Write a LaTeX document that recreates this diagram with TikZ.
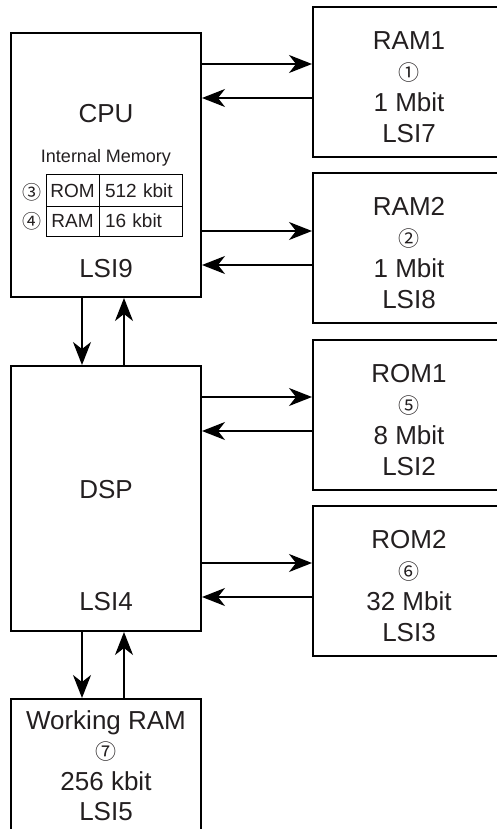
\documentclass[tikz,border=0pt]{standalone}
\usepackage{fontspec}
\setmainfont{Liberation Sans}
\newfontfamily\circfont{Noto Sans CJK JP}
\usetikzlibrary{arrows.meta,calc}
\definecolor{ink}{RGB}{35,31,32}
\newcommand{\circd}[1]{{\circfont\fontsize{21}{31}\selectfont #1}}
\begin{document}
\begin{tikzpicture}[x=1pt,y=-1pt,
  box/.style={draw=black, line width=2pt, inner sep=0pt},
  leftbox/.style={box, minimum width=190pt},
  rightbox/.style={box, minimum width=192pt, minimum height=150pt},
  big/.style={font=\fontsize{26}{31}\selectfont, text=ink, align=center, inner sep=0pt},
  small/.style={font=\fontsize{18}{20}\selectfont, text=ink, inner sep=0pt},
  cella/.style={draw=black, line width=1pt, minimum width=53pt, font=\fontsize{19}{20}\selectfont, text=ink, inner sep=0pt},
  cellb/.style={draw=black, line width=1pt, text width=71pt, inner xsep=6pt, inner ysep=0pt, align=left, font=\fontsize{19}{20}\selectfont, text=ink},
  circ/.style={font=\circfont\fontsize{19}{20}\selectfont, text=ink, inner sep=0pt},
  arr/.style={line width=1.6pt, draw=black, -{Stealth[length=23pt,width=18pt,inset=7pt]}}
]
\clip (0,0) rectangle (497,829);
% left column boxes
\node[leftbox, minimum height=264pt] (cpu) at (106,165) {};
\node[leftbox, minimum height=265pt] (dsp) at (106,498.5) {};
\node[leftbox, minimum height=160pt] (wram) at (106,779) {};
% right column boxes
\node[rightbox] (ram1) at (409,82) {};
\node[rightbox] (ram2) at (409,248) {};
\node[rightbox] (rom1) at (409,415) {};
\node[rightbox] (rom2) at (409,581) {};
% texts in right boxes
\node[big] (ram1t) at ([yshift=-5pt]ram1.center) {RAM1\\\circd{①}\\1 Mbit\\LSI7};
\node[big] (ram2t) at ([yshift=-5pt]ram2.center) {RAM2\\\circd{②}\\1 Mbit\\LSI8};
\node[big] (rom1t) at ([yshift=-5pt]rom1.center) {ROM1\\\circd{⑤}\\8 Mbit\\LSI2};
\node[big] (rom2t) at ([yshift=-5pt]rom2.center) {ROM2\\\circd{⑥}\\32 Mbit\\LSI3};
% CPU contents
\node[big, anchor=base] (cput) at (106,123) {CPU};
\node[small, anchor=base] (imem) at (106,163) {Internal Memory};
\node[cella, minimum height=31pt] (c11) at (72.5,190.5) {ROM};
\node[cellb, minimum height=31pt] (c12) at (140.5,190.5) {512 kbit};
\node[cella, minimum height=30pt] (c21) at (72.5,221) {RAM};
\node[cellb, minimum height=30pt] (c22) at (140.5,221) {16 kbit};
\node[circ] (n3) at (31.7,192.7) {③};
\node[circ] (n4) at (31.7,221.7) {④};
\node[big, anchor=base] (lsi9) at (106,277) {LSI9};
% DSP contents
\node[big, anchor=base] (dspt) at (106,498) {DSP};
\node[big, anchor=base] (lsi4) at (106,610) {LSI4};
% Working RAM contents
\node[big, font=\fontsize{26}{30.5}\selectfont] (wramt) at (106,765.5) {Working RAM\\\circd{⑦}\\256 kbit\\LSI5};
% connection points on right boxes
\path (ram1.north west) ++(0,58) coordinate (r1a) ++(0,34) coordinate (r1b);
\path (ram2.north west) ++(0,59) coordinate (r2a) ++(0,34) coordinate (r2b);
\path (rom1.north west) ++(0,58) coordinate (o1a) ++(0,34) coordinate (o1b);
\path (rom2.north west) ++(0,58) coordinate (o2a) ++(0,34) coordinate (o2b);
% horizontal arrows
\draw[arr] (cpu.east |- r1a) -- (r1a);
\draw[arr] (r1b) -- (cpu.east |- r1b);
\draw[arr] (cpu.east |- r2a) -- (r2a);
\draw[arr] (r2b) -- (cpu.east |- r2b);
\draw[arr] (dsp.east |- o1a) -- (o1a);
\draw[arr] (o1b) -- (dsp.east |- o1b);
\draw[arr] (dsp.east |- o2a) -- (o2a);
\draw[arr] (o2b) -- (dsp.east |- o2b);
% vertical arrows
\draw[arr] ([xshift=-24pt]cpu.south) -- ([xshift=-24pt]dsp.north);
\draw[arr] ([xshift=18pt]dsp.north) -- ([xshift=18pt]cpu.south);
\draw[arr] ([xshift=-24pt]dsp.south) -- ([xshift=-24pt]wram.north);
\draw[arr] ([xshift=18pt]wram.north) -- ([xshift=18pt]dsp.south);
\end{tikzpicture}
\end{document}
